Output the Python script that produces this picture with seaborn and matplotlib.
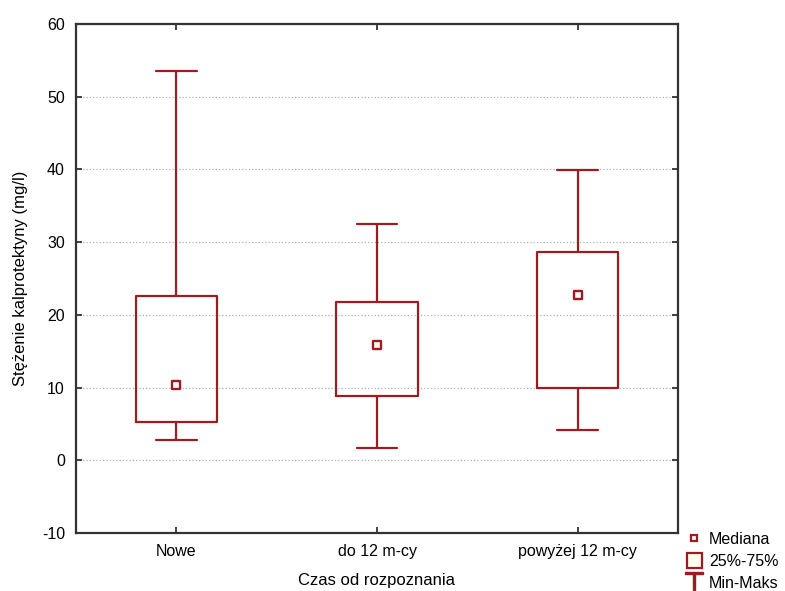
import pandas as pd
import seaborn as sns
import matplotlib.pyplot as plt
from matplotlib.lines import Line2D
from matplotlib.patches import Patch

# group labels and box stats
groups = ['Nowe', 'do 12 m-cy', 'powyżej 12 m-cy']
mins = [2.75, 1.65, 4.1]
q1 = [5.2, 8.8, 9.9]
medians = [10.3, 15.8, 22.7]
q3 = [22.6, 21.7, 28.6]
maxs = [53.6, 32.5, 39.9]

# five values per group reproduce the quartiles exactly
rows = []
for i, g in enumerate(groups):
    for v in (mins[i], q1[i], medians[i], q3[i], maxs[i]):
        rows.append({'grupa': g, 'wartosc': v})
df = pd.DataFrame(rows)
med_df = pd.DataFrame({'grupa': groups, 'mediana': medians})

red = '#9e1b22'

sns.set_style('white')
plt.rcParams['font.family'] = ['Liberation Sans', 'DejaVu Sans']
plt.rcParams['axes.unicode_minus'] = False
plt.rcParams['text.color'] = 'black'
plt.rcParams['axes.labelcolor'] = 'black'
plt.rcParams['xtick.labelcolor'] = 'black'
plt.rcParams['ytick.labelcolor'] = 'black'

fig = plt.figure(figsize=(7.85, 5.91), dpi=100)
ax = fig.add_axes([76 / 785, 1 - 533 / 591, (678 - 76) / 785, (533 - 24) / 591])

sns.boxplot(data=df, x='grupa', y='wartosc', ax=ax, whis=(0, 100),
            width=0.406, fill=False, color=red, linewidth=1.6,
            medianprops={'visible': False}, showfliers=False)
sns.scatterplot(data=med_df, x='grupa', y='mediana', ax=ax, marker='s',
                s=30, facecolor='white', edgecolor=red, linewidth=1.7,
                zorder=5)

ax.set_xlim(-0.5, 2.5)
ax.set_ylim(-10, 60)
ax.set_yticks(range(-10, 61, 10))
ax.yaxis.grid(True, linestyle=':', color='#b0b0b0', linewidth=0.9)
ax.xaxis.grid(False)
ax.set_axisbelow(True)
ax.tick_params(direction='in', length=4, width=1.2, color='#222222',
               labelsize=11.5, labelcolor='black', top=True, right=True,
               left=True, bottom=True, pad=8)
for s in ax.spines.values():
    s.set_visible(True)
    s.set_color('#333333')
    s.set_linewidth(1.6)

ax.set_xlabel('Czas od rozpoznania', fontsize=12, labelpad=10)
ax.set_ylabel('Stężenie kalprotektyny (mg/l)', fontsize=12, labelpad=10)

handles = [
    Line2D([], [], linestyle='none', marker='s', markersize=5,
           markerfacecolor='white', markeredgecolor=red, markeredgewidth=1.6),
    Patch(facecolor='#fffff0', edgecolor=red, linewidth=1.6),
    Line2D([], [], linestyle='none', marker=r'$\top$', markersize=13,
           color=red),
]
fig.legend(handles, ['Mediana', '25%-75%', 'Min-Maks'],
           loc='lower left', bbox_to_anchor=(684 / 785, -0.005),
           frameon=False, fontsize=11.5, handlelength=0.9, handleheight=1.1,
           handletextpad=0.45, labelspacing=0.35, borderaxespad=0.0,
           borderpad=0.2)

fig.savefig('out.png', dpi=100)
